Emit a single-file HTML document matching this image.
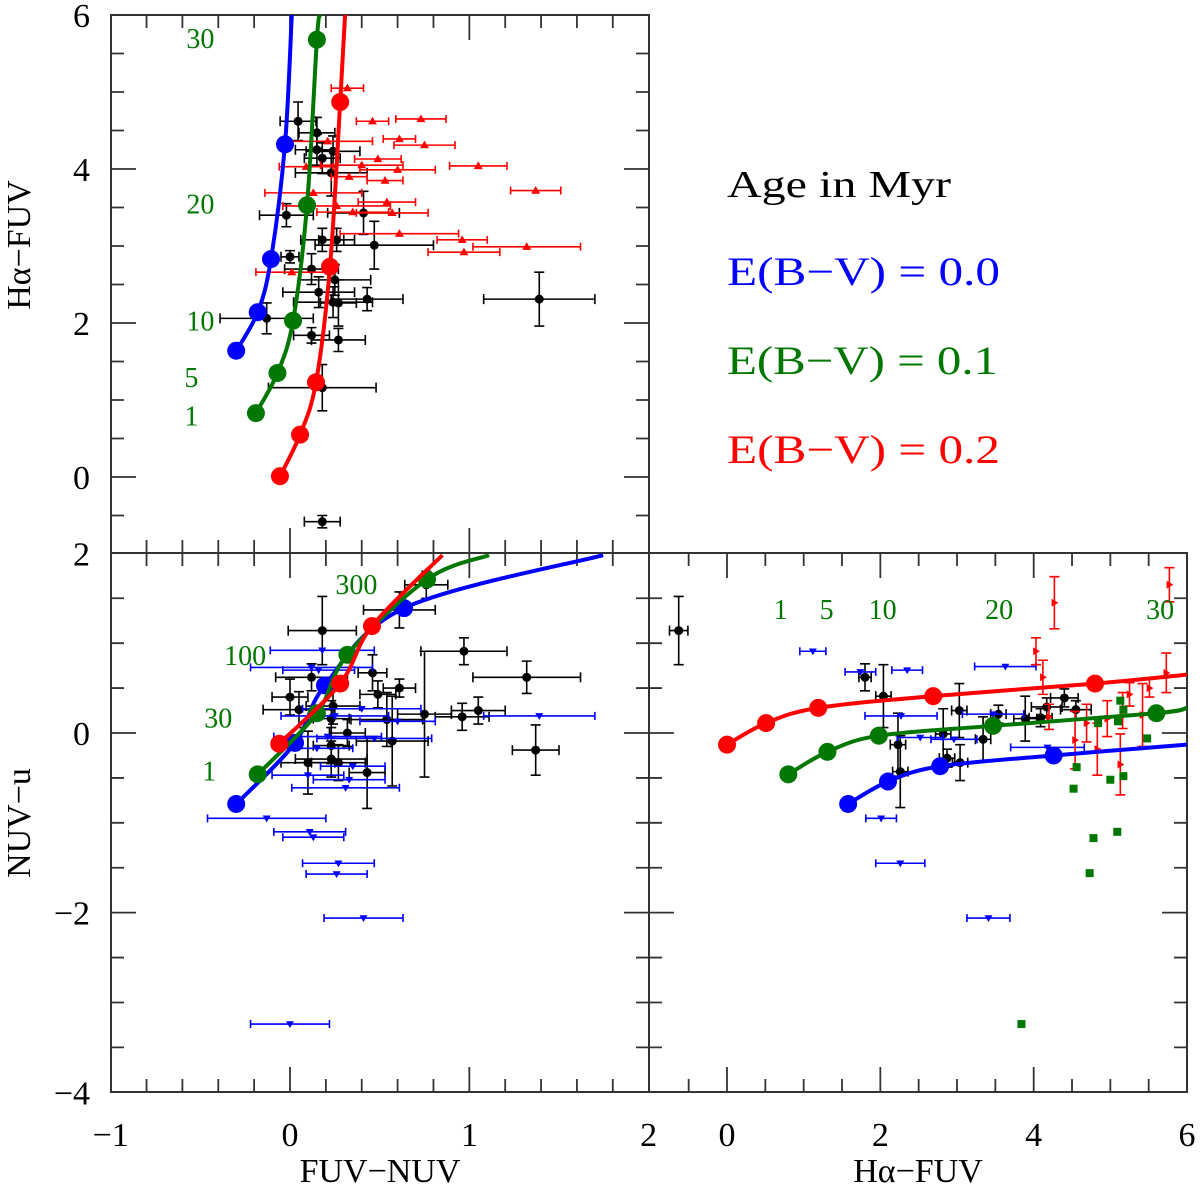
<!DOCTYPE html>
<html><head><meta charset="utf-8"><style>
html,body{margin:0;padding:0;background:#fff;}
svg{display:block;}
text{font-family:"Liberation Serif",serif;}
</style></head>
<body>
<svg id="chart" width="1200" height="1192" viewBox="0 0 1200 1192" xmlns="http://www.w3.org/2000/svg">
<g id="frames"></g>
<g id="marks"></g>
<g id="labels">
<text x="30" y="245" font-size="34" text-anchor="middle" transform="rotate(-90 30 245)">Hα−FUV</text>
<text x="30" y="823" font-size="34" text-anchor="middle" transform="rotate(-90 30 823)">NUV−u</text>
<text x="380" y="1182" font-size="34" text-anchor="middle">FUV−NUV</text>
<text x="918" y="1182" font-size="34" text-anchor="middle">Hα−FUV</text>
<text x="727" y="197" font-size="38" fill="#000" textLength="224" lengthAdjust="spacingAndGlyphs">Age in Myr</text>
<text x="727" y="285" font-size="40" fill="#0000ff" textLength="273" lengthAdjust="spacingAndGlyphs">E(B−V) = 0.0</text>
<text x="727" y="374" font-size="40" fill="#007700" textLength="271" lengthAdjust="spacingAndGlyphs">E(B−V) = 0.1</text>
<text x="727" y="463" font-size="40" fill="#ff0000" textLength="273" lengthAdjust="spacingAndGlyphs">E(B−V) = 0.2</text>
</g>
</svg>
<script>
// ---------- data ----------
const topModelBlueX=[-0.30,-0.18,-0.106,-0.028];
const topModelBlueY=[1.64,2.14,2.83,4.32];
const topModelGreenX=[-0.19,-0.07,0.017,0.095,0.15];
const topModelGreenY=[0.83,1.35,2.03,3.53,5.68];
const topModelRedX=[-0.056,0.056,0.145,0.223,0.28];
const topModelRedY=[0.01,0.55,1.23,2.73,4.87];
const topEndX=[0.01,0.167,0.307];
const topEndY=[6,6,6];
const topBlackX=[0.045,0.15,0.15,0.24,0.18,0.23,-0.02,0.41,0.18,0.26,0.47,0.0,0.12,0.25,0.16,0.43,0.24,0.27,1.39,-0.13,0.12,0.27,0.18,0.18];
const topBlackY=[4.62,4.47,4.25,4.23,4.14,3.95,3.40,3.43,3.08,3.08,3.01,2.86,2.70,2.56,2.40,2.31,2.27,2.26,2.31,2.06,1.84,1.78,1.16,-0.58];
const topBlackXe=[0.1,0.1,0.12,0.15,0.1,0.2,0.15,0.2,0.12,0.1,0.33,0.05,0.15,0.2,0.2,0.2,0.22,0.1,0.31,0.26,0.1,0.15,0.3,0.1];
const topBlackYe=[0.25,0.2,0.2,0.2,0.2,0.3,0.15,0.28,0.15,0.15,0.31,0.08,0.2,0.2,0.2,0.15,0.2,0.3,0.35,0.2,0.1,0.15,0.3,0.08];
const topRedX=[0.32,0.46,0.73,0.21,0.61,0.75,0.49,0.40,1.05,0.60,0.09,0.33,0.53,1.37,0.13,0.54,0.26,0.35,0.57,0.61,0.96,1.32,0.97,0.01];
const topRedY=[5.05,4.62,4.65,4.36,4.39,4.31,4.13,4.05,4.04,3.99,4.03,3.90,3.85,3.72,3.69,3.57,3.52,3.44,3.43,3.16,3.08,2.99,2.92,2.66];
const topRedXe=[0.09,0.09,0.14,0.25,0.09,0.17,0.13,0.23,0.16,0.21,0.15,0.1,0.1,0.14,0.27,0.16,0.3,0.2,0.2,0.33,0.14,0.3,0.2,0.2];
const topAgeLabels=["30","20","10","5","1"];
const topAgeLabelY=[5.7,3.55,2.03,1.3,0.8];
const topAgeLabelX=[-0.5,-0.5,-0.5,-0.55,-0.55];

const blModelBlueX=[-0.30,0.028,0.195,0.636];
const blModelBlueY=[-0.79,-0.11,0.53,1.39];
const blModelGreenX=[-0.18,0.15,0.32,0.764];
const blModelGreenY=[-0.46,0.22,0.87,1.71];
const blModelRedX=[-0.06,0.28,0.457];
const blModelRedY=[-0.12,0.55,1.19];
const blEndX=[1.746,1.11,0.85];
const blEndY=[1.98,1.98,1.98];
const blBlackX=[0.18,0.76,0.61,0.97,1.32,0.12,0.46,0.61,0.0,0.49,0.05,0.24,0.23,0.75,0.96,1.05,0.54,0.32,0.57,0.23,1.37,0.23,0.10,0.27,0.43];
const blBlackY=[1.14,1.65,1.37,0.91,0.62,0.62,0.67,0.50,0.40,0.43,0.26,0.30,0.16,0.21,0.18,0.25,0.15,0.0,-0.09,-0.14,-0.19,-0.29,-0.33,-0.33,-0.44];
const blBlackXe=[0.19,0.12,0.2,0.24,0.3,0.2,0.08,0.09,0.1,0.1,0.2,0.15,0.1,0.15,0.15,0.15,0.2,0.1,0.2,0.1,0.13,0.2,0.15,0.15,0.1];
const blBlackYe=[0.38,0.15,0.2,0.15,0.18,0.15,0.2,0.1,0.2,0.15,0.2,0.2,0.2,0.7,0.15,0.15,0.3,0.15,0.5,0.2,0.28,0.2,0.35,0.2,0.4];
const blBlueX=[0.18,0.12,0.16,0.40,0.25,0.60,1.39,0.21,0.47,0.15,0.35,0.10,0.33,0.31,-0.13,0.11,0.13,0.27,0.26,0.41,0.0];
const blBlueY=[0.92,0.73,0.70,0.27,0.19,0.13,0.19,-0.04,-0.06,-0.17,-0.37,-0.47,-0.52,-0.61,-0.95,-1.10,-1.16,-1.45,-1.57,-2.06,-3.24];
const blBlueXe=[0.29,0.34,0.2,0.33,0.3,0.21,0.31,0.3,0.32,0.2,0.18,0.2,0.2,0.3,0.33,0.2,0.17,0.2,0.17,0.22,0.22];
const blAgeLabels=["300","100","30","1"];
const blAgeLabelX=[0.37,-0.25,-0.40,-0.45];
const blAgeLabelY=[1.66,0.87,0.17,-0.42];

const brModelRedX=[0.0,0.51,1.19,2.69,4.80];
const brModelRedY=[-0.13,0.11,0.28,0.41,0.55];
const brModelGreenX=[0.80,1.31,1.98,3.47,5.6];
const brModelGreenY=[-0.46,-0.21,-0.03,0.08,0.22];
const brModelBlueX=[1.58,2.10,2.78,4.26];
const brModelBlueY=[-0.79,-0.54,-0.37,-0.25];
const brEndX=[6,6,6];
const brEndY=[0.65,0.28,-0.13];
const brBlackX=[-0.63,1.80,2.04,3.03,3.54,3.89,4.09,4.17,4.40,4.55,2.82,2.23,3.34,2.87,3.04,2.26];
const brBlackY=[1.14,0.62,0.41,0.25,0.21,0.16,0.17,0.29,0.39,0.26,-0.01,-0.13,-0.07,-0.28,-0.33,-0.43];
const brBlackXe=[0.12,0.08,0.1,0.1,0.1,0.15,0.15,0.2,0.18,0.2,0.1,0.1,0.1,0.1,0.1,0.1];
const brBlackYe=[0.38,0.15,0.35,0.3,0.1,0.25,0.1,0.1,0.1,0.1,0.28,0.35,0.25,0.1,0.2,0.4];
const brBlueX=[1.12,1.74,2.35,3.63,2.27,3.47,2.52,2.96,4.18,2.01,2.26,3.41];
const brBlueY=[0.91,0.68,0.70,0.74,0.19,0.21,-0.05,-0.07,-0.16,-0.95,-1.45,-2.06];
const brBlueXe=[0.17,0.2,0.2,0.4,0.47,0.4,0.3,0.3,0.48,0.2,0.32,0.28];
const brRedX=[4.27,4.03,4.12,5.77,5.73,5.51,5.25,5.16,4.96,4.69,4.2,4.54,4.83,5.13,5.42];
const brRedY=[1.45,0.91,0.62,1.65,0.67,0.50,0.43,0.25,0.16,0.11,0.18,-0.08,-0.18,-0.35,0.20];
const brRedYe=[0.29,0.15,0.19,0.19,0.22,0.1,0.13,0.2,0.2,0.21,0.14,0.32,0.29,0.34,0.35];
const brGreenX=[5.13,5.17,4.84,5.10,5.48,4.56,5.17,5.0,4.52,5.09,4.78,4.73,3.84];
const brGreenY=[0.36,0.26,0.11,0.13,-0.06,-0.38,-0.48,-0.52,-0.62,-1.10,-1.17,-1.56,-3.24];
const brAgeLabels=["1","5","10","20","30"];
const brAgeLabelX=[0.7,1.3,2.03,3.55,5.65];
const brAgeLabelY=[1.38,1.38,1.38,1.38,1.38];

const leftXTicks=[-1,0,1,2];
const rightXTicks=[0,2,4,6];
const topYTicks=[0,2,4,6];
const bottomYTicks=[-4,-2,0,2];

// ---------- axes ----------
const X1=v=>290+179.33*v;
const Yt=v=>477-77*v;
const Yb=v=>733-89.83*v;
const X2=v=>727+76.67*v;

const NS="http://www.w3.org/2000/svg";
const frames=document.getElementById('frames');
const marks=document.getElementById('marks');
function mk(tag,attrs,parent){const e=document.createElementNS(NS,tag);for(const k in attrs)e.setAttribute(k,attrs[k]);(parent||marks).appendChild(e);return e;}

const panels=[
 {name:'top-left-panel',x0:111,x1:649,y0:15,y1:553,xs:X1,xmin:-1,xmax:2,xstep:0.2,xmaj:1,ys:Yt,ymin:-1,ymax:6,ystep:0.5,ymaj:2},
 {name:'bottom-left-panel',x0:111,x1:649,y0:553,y1:1092,xs:X1,xmin:-1,xmax:2,xstep:0.2,xmaj:1,ys:Yb,ymin:-4,ymax:2,ystep:0.5,ymaj:2},
 {name:'bottom-right-panel',x0:649,x1:1187,y0:553,y1:1092,xs:X2,xmin:-1,xmax:6,xstep:0.5,xmaj:2,ys:Yb,ymin:-4,ymax:2,ystep:0.5,ymaj:2}
];
panels.forEach(p=>{
 const g=mk('g',{},frames);
 
 
 mk('rect',{x:p.x0,y:p.y0,width:p.x1-p.x0,height:p.y1-p.y0,fill:'none',stroke:'#333',"stroke-width":2},g);
 let d='';
 const nx=Math.round((p.xmax-p.xmin)/p.xstep);
 for(let i=1;i<nx;i++){const v=p.xmin+i*p.xstep;const x=p.xs(v);const maj=Math.abs(v/p.xmaj-Math.round(v/p.xmaj))<1e-6;const L=maj?25:13;
  d+=`M${x},${p.y1}v${-L}M${x},${p.y0}v${L}`;}
 const ny=Math.round((p.ymax-p.ymin)/p.ystep);
 for(let i=1;i<ny;i++){const v=p.ymin+i*p.ystep;const y=p.ys(v);const maj=Math.abs(v/p.ymaj-Math.round(v/p.ymaj))<1e-6;const L=maj?25:13;
  d+=`M${p.x0},${y}h${L}M${p.x1},${y}h${-L}`;}
 mk('path',{d:d,stroke:'#333',"stroke-width":1.8,fill:'none'},g);
});
function tl(x,y,t,anchor,name){const e=mk('text',{x:x,y:y,"font-size":34,"text-anchor":anchor},frames);e.textContent=t;
 
 }
const fmt=v=>v<0?'−'+Math.abs(v):String(v);
leftXTicks.forEach(v=>tl(X1(v),1146,fmt(v),'middle','x-tick-label-left'));
rightXTicks.forEach(v=>tl(X2(v),1146,fmt(v),'middle','x-tick-label-right'));
topYTicks.forEach(v=>tl(90,Yt(v)+12,fmt(v),'end','y-tick-label-top'));
bottomYTicks.forEach(v=>tl(90,Yb(v)+12,fmt(v),'end','y-tick-label-bottom'));

function splinePath(px,py){
 let d=`M${px[0]},${py[0]}`;
 for(let i=0;i<px.length-1;i++){
  const x0=px[Math.max(i-1,0)],y0=py[Math.max(i-1,0)],x1=px[i],y1=py[i],x2=px[i+1],y2=py[i+1],x3=px[Math.min(i+2,px.length-1)],y3=py[Math.min(i+2,px.length-1)];
  const c1x=x1+(x2-x0)/6,c1y=y1+(y2-y0)/6,c2x=x2-(x3-x1)/6,c2y=y2-(y3-y1)/6;
  d+=`C${c1x},${c1y} ${c2x},${c2y} ${x2},${y2}`;}
 return d;}
function model(xs,ys,mx,my,endx,endy,color,name){
 const px=mx.map(xs).concat([xs(endx)]),py=my.map(ys).concat([ys(endy)]);
 const p=mk('path',{d:splinePath(px,py),stroke:color,"stroke-width":4,fill:'none'});
 
 
 mx.forEach((v,i)=>{const c=mk('circle',{cx:xs(v),cy:ys(my[i]),r:9,fill:color});
  
  });
}
function ebar(x,y,xe,ye,color,capx,capy){
 let d='';
 if(xe>0){d+=`M${x-xe},${y}H${x+xe}M${x-xe},${y-capx}v${2*capx}M${x+xe},${y-capx}v${2*capx}`;}
 if(ye>0){d+=`M${x},${y-ye}V${y+ye}M${x-capy},${y-ye}h${2*capy}M${x-capy},${y+ye}h${2*capy}`;}
 if(d)mk('path',{d:d,stroke:color,"stroke-width":1.6,fill:'none'});
}
function tri(x,y,dir,color,s){
 let pts;
 if(dir==='up')pts=`${x},${y-s} ${x-s},${y+s*0.7} ${x+s},${y+s*0.7}`;
 else if(dir==='down')pts=`${x},${y+s} ${x-s},${y-s*0.7} ${x+s},${y-s*0.7}`;
 else pts=`${x+s},${y} ${x-s*0.7},${y-s} ${x-s*0.7},${y+s}`;
 return mk('polygon',{points:pts,fill:color});
}

topBlackX.forEach((v,i)=>{const x=X1(v),y=Yt(topBlackY[i]);
 ebar(x,y,topBlackXe[i]*179.33,topBlackYe[i]*77,'#000',5,5);
 const c=mk('circle',{cx:x,cy:y,r:4.5,fill:'#000'});
 
 });
topRedX.forEach((v,i)=>{const x=X1(v),y=Yt(topRedY[i]);
 ebar(x,y,topRedXe[i]*179.33,0,'#ff0000',4,0);
 const t=tri(x,y,'up','#ff0000',4.5);
 
 });
model(X1,Yt,topModelBlueX,topModelBlueY,topEndX[0],topEndY[0],'#0000ff','top-model-ebv0');
model(X1,Yt,topModelGreenX,topModelGreenY,topEndX[1],topEndY[1],'#007700','top-model-ebv01');
model(X1,Yt,topModelRedX,topModelRedY,topEndX[2],topEndY[2],'#ff0000','top-model-ebv02');
topAgeLabels.forEach((t,i)=>{const e=mk('text',{x:X1(topAgeLabelX[i]),y:Yt(topAgeLabelY[i])+10,"font-size":28,fill:'#007700',"text-anchor":"middle"});e.textContent=t;
 
 });

blBlackX.forEach((v,i)=>{const x=X1(v),y=Yb(blBlackY[i]);
 ebar(x,y,blBlackXe[i]*179.33,blBlackYe[i]*89.83,'#000',5,5);
 const c=mk('circle',{cx:x,cy:y,r:4.5,fill:'#000'});
 
 });
blBlueX.forEach((v,i)=>{const x=X1(v),y=Yb(blBlueY[i]);
 ebar(x,y,blBlueXe[i]*179.33,0,'#0000ff',4,0);
 const t=tri(x,y,'down','#0000ff',4);
 
 });
model(X1,Yb,blModelBlueX,blModelBlueY,blEndX[0],blEndY[0],'#0000ff','bl-model-ebv0');
model(X1,Yb,blModelGreenX,blModelGreenY,blEndX[1],blEndY[1],'#007700','bl-model-ebv01');
model(X1,Yb,blModelRedX,blModelRedY,blEndX[2],blEndY[2],'#ff0000','bl-model-ebv02');
blAgeLabels.forEach((t,i)=>{const e=mk('text',{x:X1(blAgeLabelX[i]),y:Yb(blAgeLabelY[i])+10,"font-size":28,fill:'#007700',"text-anchor":"middle"});e.textContent=t;
 
 });

brBlackX.forEach((v,i)=>{const x=X2(v),y=Yb(brBlackY[i]);
 ebar(x,y,brBlackXe[i]*76.67,brBlackYe[i]*89.83,'#000',5,5);
 const c=mk('circle',{cx:x,cy:y,r:4.5,fill:'#000'});
 
 });
brBlueX.forEach((v,i)=>{const x=X2(v),y=Yb(brBlueY[i]);
 ebar(x,y,brBlueXe[i]*76.67,0,'#0000ff',4,0);
 const t=tri(x,y,'down','#0000ff',4);
 
 });
brRedX.forEach((v,i)=>{const x=X2(v),y=Yb(brRedY[i]);
 ebar(x,y,0,brRedYe[i]*89.83,'#ff0000',0,5);
 const t=tri(x,y,'right','#ff0000',4);
 
 });
brGreenX.forEach((v,i)=>{const r=mk('rect',{x:X2(v)-4,y:Yb(brGreenY[i])-4,width:8,height:8,fill:'#007700'});
 
 });
model(X2,Yb,brModelRedX,brModelRedY,brEndX[0],brEndY[0],'#ff0000','br-model-ebv02');
model(X2,Yb,brModelGreenX,brModelGreenY,brEndX[1],brEndY[1],'#007700','br-model-ebv01');
model(X2,Yb,brModelBlueX,brModelBlueY,brEndX[2],brEndY[2],'#0000ff','br-model-ebv0');
brAgeLabels.forEach((t,i)=>{const e=mk('text',{x:X2(brAgeLabelX[i]),y:Yb(brAgeLabelY[i])+10,"font-size":28,fill:'#007700',"text-anchor":"middle"});e.textContent=t;
 
 });
</script>
</body></html>
